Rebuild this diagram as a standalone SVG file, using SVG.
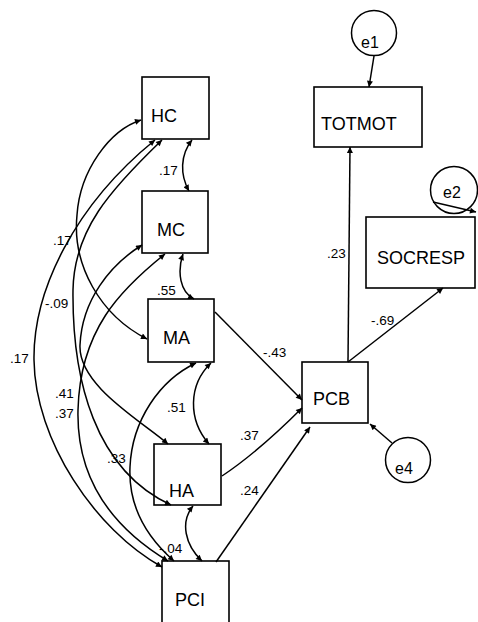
<svg xmlns="http://www.w3.org/2000/svg" width="478" height="622" viewBox="0 0 478 622">
<style>
.box{fill:#fff;stroke:#000;stroke-width:1.6}
.c{fill:#fff;stroke:#000;stroke-width:1.5}
.nt{font-family:"Liberation Sans",Arial,sans-serif;font-size:18px;fill:#000}
.et{font-family:"Liberation Sans",Arial,sans-serif;font-size:16px;fill:#000}
.lb{font-family:"Liberation Sans",Arial,sans-serif;font-size:13.5px;fill:#000}
.e{fill:none;stroke:#000;stroke-width:1.5;marker-end:url(#ah)}
.d{fill:none;stroke:#000;stroke-width:1.5;marker-start:url(#ah);marker-end:url(#ah)}
</style>
<defs>
<marker id="ah" viewBox="0 0 10 10" refX="10" refY="5" markerWidth="8" markerHeight="6" markerUnits="userSpaceOnUse" orient="auto-start-reverse"><path d="M0,0 L10,5 L0,10 z" fill="#000"/></marker>
</defs>
<rect width="478" height="622" fill="#fff"/>
<g id="HC"><rect class="box" x="142" y="77" width="67" height="62"/><text class="nt" x="151" y="122">HC</text></g>
<g id="MC"><rect class="box" x="142" y="191" width="66" height="62"/><text class="nt" x="157" y="236">MC</text></g>
<g id="MA"><rect class="box" x="148" y="299" width="66" height="63"/><text class="nt" x="163" y="344">MA</text></g>
<g id="HA"><rect class="box" x="154" y="444" width="67" height="61"/><text class="nt" x="169" y="497">HA</text></g>
<g id="PCI"><rect class="box" x="162" y="561" width="67" height="70"/><text class="nt" x="175" y="606">PCI</text></g>
<g id="TOTMOT"><rect class="box" x="314" y="87" width="108" height="60"/><text class="nt" x="321" y="130">TOTMOT</text></g>
<g id="SOCRESP"><rect class="box" x="366" y="217" width="109" height="71"/><text class="nt" x="377" y="264">SOCRESP</text></g>
<g id="PCB"><rect class="box" x="302" y="362" width="66" height="61"/><text class="nt" x="313" y="405">PCB</text></g>
<g id="e1"><circle class="c" cx="374" cy="33" r="22.5"/><text class="et" x="361" y="48">e1</text></g>
<g id="e2"><circle class="c" cx="454" cy="190" r="23.5" style="fill:none"/><text class="et" x="443" y="198">e2</text></g>
<g id="e4"><circle class="c" cx="408" cy="460" r="22.5"/><text class="et" x="395" y="474">e4</text></g>
<g id="connectors">
<path class="e" d="M374,56 L369,87"/>
<path class="e" d="M348,362 L350,147"/>
<path class="e" d="M348,362 L443,288"/>
<path class="e" d="M433,202 L476,212"/>
<path class="e" d="M392,443 L370,424"/>
<path class="e" d="M215,312 L302,400"/>
<path class="e" d="M222,476 Q258,452 302,408"/>
<path class="e" d="M216,562 L310,427"/>
<path class="d" d="M141,120 C110,130 80,170 77,215 C72,265 100,315 147,339"/>
<path class="d" d="M162,140 C110,190 74,230 73,290 C72,380 95,470 171,505"/>
<path class="d" d="M155,140 C75,205 33,290 34,360 C35,440 95,530 162,567"/>
<path class="d" d="M142,245 C110,265 82,300 80,345 C78,385 140,420 168,444"/>
<path class="d" d="M165,254 C120,290 80,330 78,410 C76,490 125,535 168,561"/>
<path class="d" d="M196,363 C160,380 132,420 130,467 C128,510 150,540 174,561"/>
<path class="d" d="M192,140 C180,155 180,175 189,191"/>
<path class="d" d="M183,254 C177,272 180,292 194,299"/>
<path class="d" d="M211,363 C188,385 188,420 209,444"/>
<path class="d" d="M193,506 C180,522 185,545 202,561"/>
</g>
<g id="labels">
<text class="lb" x="159" y="175">.17</text>
<text class="lb" x="157" y="295">.55</text>
<text class="lb" x="167" y="412">.51</text>
<text class="lb" x="159" y="553">-.04</text>
<text class="lb" x="53" y="245">.17</text>
<text class="lb" x="45" y="308">-.09</text>
<text class="lb" x="10" y="363">.17</text>
<text class="lb" x="55" y="398">.41</text>
<text class="lb" x="55" y="418">.37</text>
<text class="lb" x="107" y="463">.33</text>
<text class="lb" x="327" y="258">.23</text>
<text class="lb" x="371" y="325">-.69</text>
<text class="lb" x="263" y="357">-.43</text>
<text class="lb" x="240" y="440">.37</text>
<text class="lb" x="240" y="495">.24</text>
</g>
</svg>
